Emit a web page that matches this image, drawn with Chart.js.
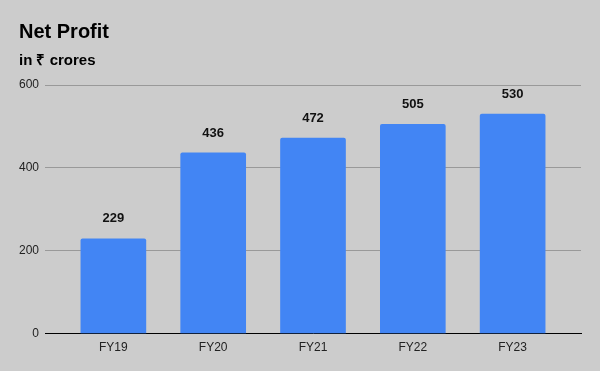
<!DOCTYPE html>
<html>
<head>
<meta charset="utf-8">
<script src="https://cdn.jsdelivr.net/npm/chart.js@4"></script>
<style>
  html, body { margin: 0; padding: 0; background: #cccccc; }
  #wrap { width: 600px; height: 371px; }
</style>
</head>
<body>
<div id="wrap"><canvas id="chart"></canvas></div>
<script>
const years = ['FY19', 'FY20', 'FY21', 'FY22', 'FY23'];
const netProfit = [229, 436, 472, 505, 530];

const FONT = '"Liberation Sans", Arial, sans-serif';

// values above each bar
const barLabels = {
    id: 'barLabels',
    afterDatasetsDraw(chart) {
        const ctx = chart.ctx;
        const meta = chart.getDatasetMeta(0);
        ctx.save();
        ctx.font = `bold 13px ${FONT}`;
        ctx.fillStyle = '#111';
        ctx.textAlign = 'center';
        ctx.textBaseline = 'middle';
        meta.data.forEach((bar, i) => {
            ctx.fillText(String(netProfit[i]), bar.x, bar.y - 20);
        });
        ctx.restore();
    }
};

new Chart(document.getElementById('chart'), {
    type: 'bar',
    data: {
        datasets: [{
            data: netProfit.map((v, i) => ({ x: i, y: v })),
            backgroundColor: '#4285f4',
            borderRadius: { topLeft: 2, topRight: 2 },
            borderSkipped: 'bottom',
            barThickness: 65
        }]
    },
    options: {
        responsive: true,
        maintainAspectRatio: false,
        animation: false,
        layout: { padding: { left: 19, right: 19, bottom: 9, top: 0 } },
        plugins: {
            legend: { display: false },
            tooltip: { enabled: false },
            title: {
                display: true,
                text: 'Net Profit',
                align: 'start',
                color: '#000',
                font: { family: FONT, size: 20, weight: 'bold' },
                padding: { top: 20, bottom: 4 }
            },
            subtitle: {
                display: true,
                text: 'in ₹ crores',
                align: 'start',
                color: '#000',
                font: { family: FONT, size: 15, weight: 'bold' },
                padding: { top: 4, bottom: 15 }
            }
        },
        scales: {
            x: {
                type: 'linear',
                offset: false,
                min: -0.685,
                max: years.length - 1 + 0.685,
                afterBuildTicks: (scale) => { scale.ticks = years.map((_, i) => ({ value: i })); },
                grid: { display: false, drawTicks: false },
                border: { color: '#000', width: 1 },
                ticks: {
                    autoSkip: false,
                    maxRotation: 0,
                    color: '#222',
                    font: { family: FONT, size: 12 },
                    padding: 7,
                    callback: (v) => years[v] ?? ''
                }
            },
            y: {
                min: 0,
                max: 600,
                afterFit: (scale) => { scale.width = 26; },
                grid: { color: '#999', drawTicks: false },
                border: { display: false },
                ticks: { stepSize: 200, color: '#222', font: { family: FONT, size: 12 }, padding: 6 }
            }
        }
    },
    plugins: [barLabels]
});
</script>
</body>
</html>
